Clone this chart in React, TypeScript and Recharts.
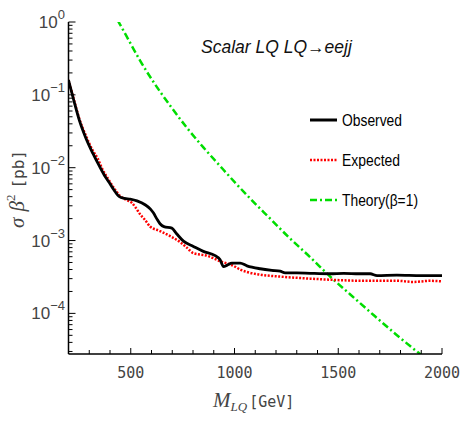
import React from 'react';
import { LineChart, Line, XAxis, YAxis, Legend } from 'recharts';

// masses in GeV, cross sections in pb
const observedMass = [200, 225, 252, 285, 317, 349, 375, 397, 420, 445, 470, 497, 530, 569, 595, 609, 625, 641, 660, 698, 720, 754, 802, 850, 907, 930, 947, 965, 987, 1027, 1060, 1124, 1180, 1220, 1244, 1300, 1365, 1461, 1526, 1600, 1654, 1687, 1783, 1900, 2000];
const observedSigma = [0.16, 0.085, 0.045, 0.025, 0.0158, 0.0105, 0.0077, 0.0062, 0.0049, 0.004, 0.0038, 0.0037, 0.0035, 0.0031, 0.0027, 0.0024, 0.002, 0.0017, 0.00155, 0.00148, 0.00125, 0.00098, 0.00083, 0.00071, 0.00062, 0.00055, 0.00044, 0.00046, 0.00049, 0.00049, 0.00045, 0.00041, 0.00039, 0.00038, 0.00036, 0.00036, 0.000355, 0.00035, 0.000355, 0.00035, 0.00035, 0.00033, 0.000335, 0.00033, 0.00033];

const expectedMass = [200, 225, 252, 285, 317, 340, 360, 397, 420, 448, 480, 505, 525, 545, 570, 593, 641, 690, 738, 770, 802, 867, 931, 995, 1027, 1060, 1124, 1220, 1365, 1461, 1622, 1783, 1863, 1944, 2000];
const expectedSigma = [0.16, 0.088, 0.047, 0.027, 0.0172, 0.0135, 0.01, 0.0066, 0.0052, 0.0041, 0.0036, 0.0033, 0.0028, 0.0023, 0.0019, 0.00156, 0.00135, 0.00115, 0.00095, 0.0008, 0.00067, 0.00062, 0.00052, 0.00045, 0.0004, 0.00037, 0.00034, 0.00032, 0.0003, 0.00029, 0.00028, 0.00028, 0.00027, 0.00028, 0.000275];

const theoryMass = [400, 448, 500, 545, 609, 690, 770, 850, 931, 1011, 1091, 1172, 1260, 1365, 1461, 1558, 1670, 1780, 1896, 1950];
const theorySigma = [1.6, 0.93, 0.5, 0.295, 0.151, 0.071, 0.0355, 0.019, 0.0105, 0.0059, 0.0034, 0.002, 0.00112, 0.00059, 0.00032, 0.000182, 0.000095, 0.000051, 0.0000275, 0.000021];

const xTicks = [200, 300, 400, 500, 600, 700, 800, 900, 1000, 1100, 1200, 1300, 1400, 1500, 1600, 1700, 1800, 1900, 2000];
const xLabels = [500, 1000, 1500, 2000];
const yDecades = [1e-4, 1e-3, 1e-2, 1e-1, 1];
const yMin = 2.77e-5;

const yTicks: number[] = [];
[1e-5, 1e-4, 1e-3, 1e-2, 1e-1].forEach((d) => {
  [1, 2, 3, 4, 5, 6, 7, 8, 9].forEach((k) => {
    const v = d * k;
    if (v >= yMin && v <= 1) yTicks.push(v);
  });
});
yTicks.push(1);

const toPoints = (m: number[], s: number[]) => m.map((mass, i) => ({ mass, sigma: s[i] }));
const observed = toPoints(observedMass, observedSigma);
const expected = toPoints(expectedMass, expectedSigma);
const theory = toPoints(theoryMass, theorySigma);

const isDecade = (v: number) => yDecades.some((d) => Math.abs(Math.log10(v) - Math.log10(d)) < 1e-6);

const BottomTick = (props: any) => {
  const { x, y, payload } = props;
  const major = xLabels.includes(payload.value);
  return (
    <g>
      <line x1={x} x2={x} y1={y} y2={y - (major ? 6 : 4)} stroke="#000" strokeWidth={1} />
      {major && (
        <text x={x} y={y + 24} textAnchor="middle" fontFamily="DejaVu Sans Mono" fontSize={15} fill="#444">
          {payload.value}
        </text>
      )}
    </g>
  );
};

const TopTick = (props: any) => {
  const { x, y, payload } = props;
  const major = xLabels.includes(payload.value);
  return <line x1={x} x2={x} y1={y} y2={y + (major ? 6 : 4)} stroke="#000" strokeWidth={1} />;
};

const LeftTick = (props: any) => {
  const { x, y, payload } = props;
  const major = isDecade(payload.value);
  const exp = Math.round(Math.log10(payload.value));
  return (
    <g>
      <line x1={x} x2={x + (major ? 7 : 4)} y1={y} y2={y} stroke="#000" strokeWidth={1} />
      {major && (
        <text x={x - 3.5} y={y + 6} textAnchor="end" fontFamily="Liberation Sans" fontSize={17} fill="#444">
          10
          <tspan fontSize={13} dy={-9}>{exp === 0 ? '0' : '\u2212' + Math.abs(exp)}</tspan>
        </text>
      )}
    </g>
  );
};

const RightTick = (props: any) => {
  const { x, y, payload } = props;
  const major = isDecade(payload.value);
  return <line x1={x} x2={x - (major ? 7 : 4)} y1={y} y2={y} stroke="#000" strokeWidth={1} />;
};

const legendRows = [
  { name: 'Observed', color: '#000000', dash: undefined as string | undefined, width: 3, len: 60 },
  { name: 'Expected', color: '#ff0000', dash: '2 1.5', width: 2.5, len: 58 },
  { name: 'Theory(\u03b2=1)', color: '#00dd00', dash: '7 3 2 3', width: 2.5, len: 76 },
];

const renderLegend = () => (
  <svg width={160} height={120}>
    {legendRows.map((r, i) => {
      const cy = 20 + i * 40;
      return (
        <g key={r.name}>
          <line x1={10} x2={37} y1={cy} y2={cy} stroke={r.color} strokeWidth={r.width} strokeDasharray={r.dash} />
          <text
            x={42}
            y={cy + 6}
            fontFamily="Liberation Sans"
            fontSize={17}
            fill="#000"
            textLength={r.len}
            lengthAdjust="spacingAndGlyphs"
          >
            {r.name}
          </text>
        </g>
      );
    })}
  </svg>
);

export default function App() {
  return (
    <div style={{ position: 'absolute', left: 0, top: 0, background: '#fff' }}>
      <LineChart width={462} height={423} margin={{ top: 22, right: 20, bottom: 0, left: 0 }}>
        <XAxis
          xAxisId="bottom"
          dataKey="mass"
          type="number"
          domain={[200, 2000]}
          allowDataOverflow
          ticks={xTicks}
          interval={0}
          height={69}
          tickSize={0}
          tickMargin={0}
          tickLine={false}
          axisLine={{ stroke: '#000', strokeWidth: 1.5 }}
          tick={<BottomTick />}
        />
        <XAxis
          xAxisId="top"
          orientation="top"
          dataKey="mass"
          type="number"
          domain={[200, 2000]}
          allowDataOverflow
          ticks={xTicks}
          interval={0}
          height={0}
          tickSize={0}
          tickMargin={0}
          tickLine={false}
          axisLine={{ stroke: '#000', strokeWidth: 1.5 }}
          tick={<TopTick />}
        />
        <YAxis
          yAxisId="left"
          scale="log"
          type="number"
          domain={[yMin, 1]}
          allowDataOverflow
          ticks={yTicks}
          interval={0}
          width={68.5}
          tickSize={0}
          tickMargin={0}
          tickLine={false}
          axisLine={{ stroke: '#000', strokeWidth: 1.5 }}
          tick={<LeftTick />}
        />
        <YAxis
          yAxisId="right"
          orientation="right"
          scale="log"
          type="number"
          domain={[yMin, 1]}
          allowDataOverflow
          ticks={yTicks}
          interval={0}
          width={0}
          tickSize={0}
          tickMargin={0}
          tickLine={false}
          axisLine={{ stroke: '#000', strokeWidth: 1.5 }}
          tick={<RightTick />}
        />
        <Line
          xAxisId="bottom"
          yAxisId="left"
          data={theory}
          dataKey="sigma"
          type="monotone"
          stroke="#00dd00"
          strokeWidth={2.5}
          strokeDasharray="7 3 2 3"
          dot={false}
          isAnimationActive={false}
        />
        <Line
          xAxisId="bottom"
          yAxisId="left"
          data={expected}
          dataKey="sigma"
          type="monotone"
          stroke="#ff0000"
          strokeWidth={2.5}
          strokeDasharray="2 1.5"
          dot={false}
          isAnimationActive={false}
        />
        <Line
          xAxisId="bottom"
          yAxisId="left"
          data={observed}
          dataKey="sigma"
          type="monotone"
          stroke="#000000"
          strokeWidth={2.8}
          dot={false}
          isAnimationActive={false}
        />
        <Legend
          layout="vertical"
          align="center"
          verticalAlign="middle"
          content={renderLegend}
          wrapperStyle={{ position: 'absolute', left: 300, top: 100, width: 160, height: 120 }}
        />
        <text x={201} y={53} fontFamily="Liberation Sans" fontStyle="italic" fontSize={17.5} fill="#111">
          Scalar LQ LQ{'\u2192'}eejj
        </text>
        <text x={213} y={407} fontFamily="Liberation Serif" fill="#444">
          <tspan fontStyle="italic" fontSize={21}>M</tspan>
          <tspan fontStyle="italic" fontSize={13} dy={4}>LQ</tspan>
          <tspan fontFamily="DejaVu Sans Mono" fontSize={15} dy={-4} dx={2}>[GeV]</tspan>
        </text>
        <text
          x={24}
          y={189}
          textAnchor="middle"
          transform="rotate(-90, 24, 189)"
          fontFamily="Liberation Serif"
          fill="#444"
        >
          <tspan fontStyle="italic" fontSize={21}>{'\u03c3'}</tspan>
          <tspan fontStyle="italic" fontSize={21} dx={6}>{'\u03b2'}</tspan>
          <tspan fontSize={13} dy={-9}>2</tspan>
          <tspan fontFamily="DejaVu Sans Mono" fontSize={16} dy={9} dx={6}>[pb]</tspan>
        </text>
      </LineChart>
    </div>
  );
}
